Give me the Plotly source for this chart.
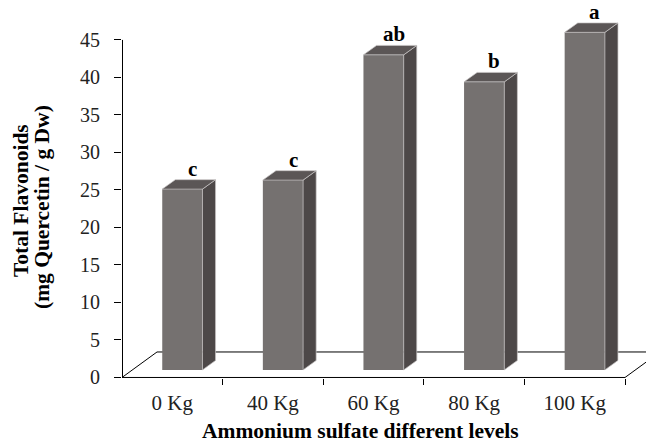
import plotly.graph_objects as go

# data
levels = ['0 Kg', '40 Kg', '60 Kg', '80 Kg', '100 Kg']
flavonoids = [24.1, 25.3, 42.0, 38.4, 45.0]
letters = ['c', 'c', 'ab', 'b', 'a']
y_ticks = [0, 5, 10, 15, 20, 25, 30, 35, 40, 45]

# 3d look (in axis units)
FLOOR_DX, FLOOR_DY = 0.348, 3.4      # floor depth
FRONT_DX, FRONT_DY = 0.1, 1.01       # bar front sits inside the floor
BAR_DX, BAR_DY = 0.13, 1.26          # bar depth
BAR_W = 0.4

FRONT = '#757170'
SIDE = '#4d4848'
TOP = '#5b5656'
EDGE = '#c9c6c6'
FONT = 'Liberation Serif'

pos = list(range(len(levels)))
fig = go.Figure()

# front faces
fig.add_trace(go.Bar(
    x=pos, y=flavonoids, base=FRONT_DY,
    width=BAR_W, offset=-BAR_W / 2 + FRONT_DX,
    marker=dict(color=FRONT, line=dict(color=FRONT, width=0)),
    hoverinfo='skip', showlegend=False
))

# side + top faces
for i, v in zip(pos, flavonoids):
    x0 = i - BAR_W / 2 + FRONT_DX
    x1 = x0 + BAR_W
    y0 = FRONT_DY
    y1 = FRONT_DY + v
    fig.add_trace(go.Scatter(
        x=[x1, x1 + BAR_DX, x1 + BAR_DX, x1, x1],
        y=[y0, y0 + BAR_DY, y1 + BAR_DY, y1, y0],
        fill='toself', fillcolor=SIDE, mode='lines',
        line=dict(color=EDGE, width=0.7),
        hoverinfo='skip', showlegend=False
    ))
    fig.add_trace(go.Scatter(
        x=[x0, x1, x1 + BAR_DX, x0 + BAR_DX, x0],
        y=[y1, y1, y1 + BAR_DY, y1 + BAR_DY, y1],
        fill='toself', fillcolor=TOP, mode='lines',
        line=dict(color=EDGE, width=0.7),
        hoverinfo='skip', showlegend=False
    ))

# value axis line
fig.add_trace(go.Scatter(
    x=[-0.495, -0.495], y=[0, max(y_ticks)], mode='lines',
    line=dict(color='black', width=1),
    hoverinfo='skip', showlegend=False
))

# floor (under the bars)
n = len(levels)
floor = (f'M -0.5,0 L {n - 0.5},0 L {n - 0.5 + FLOOR_DX},{FLOOR_DY} '
         f'L {-0.5 + FLOOR_DX},{FLOOR_DY} Z')
fig.add_shape(type='path', path=floor, xref='x', yref='y', layer='below',
              line=dict(color='black', width=1), fillcolor='white')

# significance letters
for i, v, t in zip(pos, flavonoids, letters):
    fig.add_annotation(
        x=i + 0.2, y=v + FRONT_DY + BAR_DY, text=f'<b>{t}</b>',
        showarrow=False, yanchor='bottom', yshift=-3,
        font=dict(family=FONT, size=21, color='black')
    )

# axis titles
fig.add_annotation(
    x=(21 - 122) / 532, y=(378 - 201) / 368, xref='paper', yref='paper',
    xanchor='center', yanchor='middle',
    text='<b>Total Flavonoids</b>', textangle=-90, showarrow=False,
    font=dict(family=FONT, size=21.5, color='black')
)
fig.add_annotation(
    x=(42 - 122) / 532, y=(378 - 207) / 368, xref='paper', yref='paper',
    xanchor='center', yanchor='middle',
    text='<b>(mg Quercetin / g Dw)</b>', textangle=-90, showarrow=False,
    font=dict(family=FONT, size=21.5, color='black')
)
fig.add_annotation(
    x=(360 - 122) / 532, y=(378 - 431) / 368, xref='paper', yref='paper',
    xanchor='center', yanchor='middle',
    text='<b>Ammonium sulfate different levels</b>', showarrow=False,
    font=dict(family=FONT, size=21.5, color='black')
)

# the page body adds an 8px offset, so margins are shifted by it
fig.update_layout(
    width=654, height=448,
    margin=dict(l=114, r=8, t=2, b=78),
    plot_bgcolor='white', paper_bgcolor='white',
    showlegend=False,
    xaxis=dict(
        range=[-0.5, 4.788], showgrid=False, zeroline=False, showline=False,
        tickmode='array', tickvals=pos, ticktext=levels,
        ticks='outside', ticklen=0, ticklabelstandoff=6,
        tickfont=dict(family=FONT, size=21, color='#222'),
        minor=dict(tickmode='array', tickvals=[p + 0.5 for p in pos],
                   ticks='outside', ticklen=6, tickcolor='black', tickwidth=1),
    ),
    yaxis=dict(
        range=[-0.07, 48.99], showgrid=False, zeroline=False, showline=False,
        tickmode='array', tickvals=y_ticks,
        ticks='outside', ticklen=7, tickcolor='black', tickwidth=1,
        ticklabelstandoff=10,
        tickfont=dict(family=FONT, size=20, color='#222'),
    ),
)

fig.write_html('out.html')
